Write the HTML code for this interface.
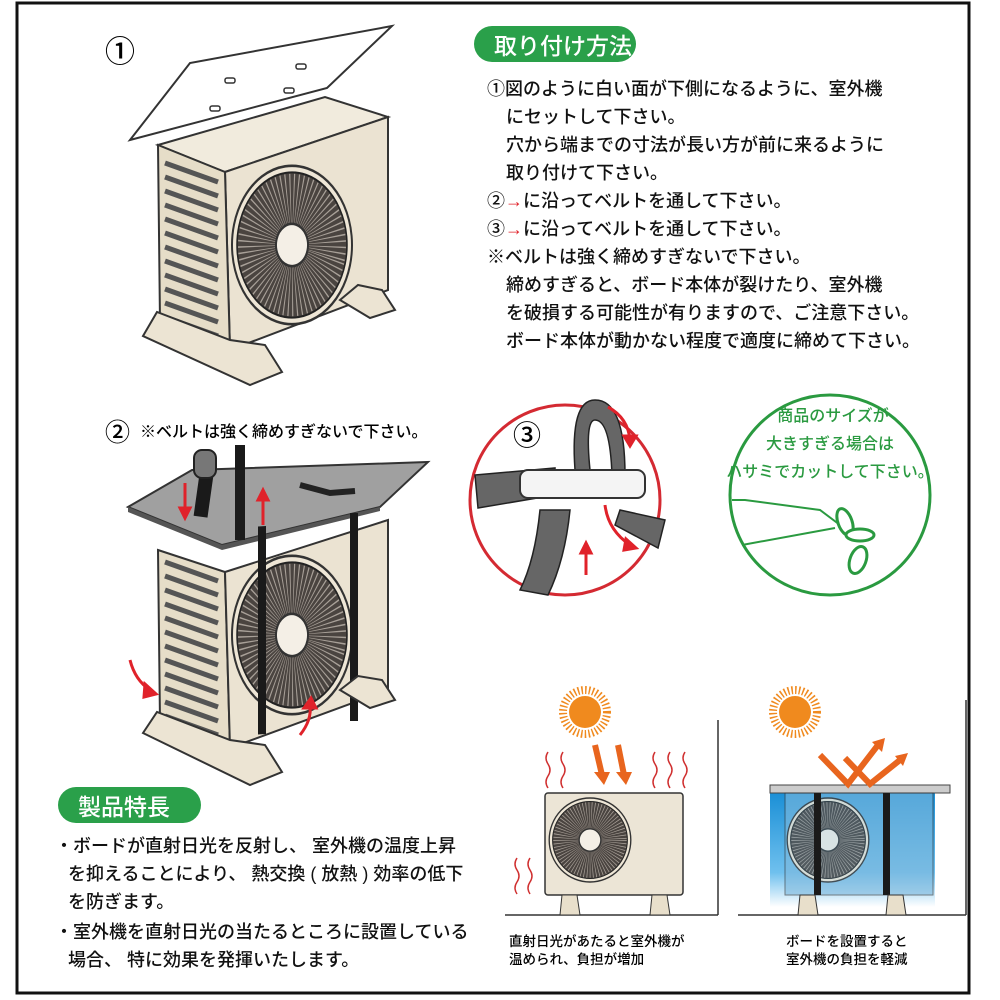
<!DOCTYPE html>
<html><head><meta charset="utf-8"><style>
html,body{margin:0;padding:0;background:#fff;}
svg{display:block}
text{font-family:"Liberation Sans","Noto Sans CJK JP",sans-serif;font-weight:500;}
</style></head><body>
<svg width="1000" height="1000" viewBox="0 0 1000 1000" xmlns="http://www.w3.org/2000/svg">
<defs>
<linearGradient id="blue" x1="0" y1="0" x2="0" y2="1">
<stop offset="0" stop-color="#1a8fd6"/><stop offset="0.7" stop-color="#6fc0ee"/><stop offset="1" stop-color="#ffffff"/>
</linearGradient>
<g id="fan">
<circle r="60" fill="#eee6d6" stroke="#333" stroke-width="2"/>
<circle r="55" fill="#4a4440" stroke="#222" stroke-width="1.5"/>
<circle r="35" fill="none" stroke="#a8a098" stroke-width="38" stroke-dasharray="0.8 2.4"/>
<circle r="16" fill="#f4efe6" stroke="#333" stroke-width="2"/>
</g>
</defs>
<rect x="17" y="3" width="952" height="990" fill="none" stroke="#111" stroke-width="3"/>

<!-- Unit 1 -->
<text x="105" y="62" font-size="30">①</text>
<polygon points="130,140 190,63 392,26 327,88" fill="#fff" stroke="#333" stroke-width="2"/>
<g fill="none" stroke="#333" stroke-width="1.5">
<rect x="225" y="78" width="10" height="5" rx="2"/><rect x="296" y="64" width="10" height="5" rx="2"/>
<rect x="210" y="106" width="10" height="5" rx="2"/><rect x="284" y="88" width="10" height="5" rx="2"/>
</g>
<polygon points="158,145 325,97 388,117 225,172" fill="#f1ebdd" stroke="#333" stroke-width="2"/>
<polygon points="225,172 388,117 388,290 230,350" fill="#ebe3d2" stroke="#333" stroke-width="2"/>
<polygon points="158,145 225,172 230,350 160,322" fill="#e6ddc8" stroke="#333" stroke-width="2"/>
<g stroke="#555" stroke-width="5">
<line x1="165" y1="163" x2="218" y2="182"/><line x1="165" y1="177" x2="218" y2="196"/><line x1="165" y1="191" x2="218" y2="210"/>
<line x1="165" y1="205" x2="218" y2="224"/><line x1="165" y1="219" x2="218" y2="238"/><line x1="165" y1="233" x2="218" y2="252"/>
<line x1="165" y1="247" x2="218" y2="266"/><line x1="165" y1="261" x2="218" y2="280"/><line x1="165" y1="275" x2="218" y2="294"/>
<line x1="165" y1="289" x2="218" y2="308"/><line x1="165" y1="303" x2="218" y2="322"/><line x1="165" y1="317" x2="218" y2="336"/>
</g>
<use href="#fan" transform="translate(292,245) scale(1.0,1.32) rotate(15)"/>
<polygon points="143,336 157,312 230,340 265,345 282,372 250,385" fill="#ece4d3" stroke="#333" stroke-width="2"/>
<polygon points="340,300 358,285 382,290 395,310 370,318" fill="#ece4d3" stroke="#333" stroke-width="2"/>

<!-- Header 1 -->
<rect x="474" y="26" width="162" height="36" rx="18" fill="#2aa04a"/>
<text x="494" y="54" font-size="23" fill="#fff">取り付け方法</text>
<g font-size="18" fill="#111">
<text x="487" y="95">①図のように白い面が下側になるように、室外機</text>
<text x="506" y="123">にセットして下さい。</text>
<text x="506" y="151">穴から端までの寸法が長い方が前に来るように</text>
<text x="506" y="179">取り付けて下さい。</text>
<text x="487" y="207">②<tspan fill="#e0222a">→</tspan>に沿ってベルトを通して下さい。</text>
<text x="487" y="235">③<tspan fill="#e0222a">→</tspan>に沿ってベルトを通して下さい。</text>
<text x="487" y="263">※ベルトは強く締めすぎないで下さい。</text>
<text x="506" y="291">締めすぎると、ボード本体が裂けたり、室外機</text>
<text x="506" y="319">を破損する可能性が有りますので、ご注意下さい。</text>
<text x="506" y="347">ボード本体が動かない程度で適度に締めて下さい。</text>
</g>

<!-- Unit 2 -->
<text x="105" y="441" font-size="25">②</text>
<text x="140" y="437" font-size="16">※ベルトは強く締めすぎないで下さい。</text>
<polygon points="158,550 225,572 230,748 160,722" fill="#e6ddc8" stroke="#333" stroke-width="2"/>
<polygon points="225,572 388,520 388,690 230,748" fill="#ebe3d2" stroke="#333" stroke-width="2"/>
<g stroke="#555" stroke-width="5">
<line x1="165" y1="562" x2="218" y2="581"/><line x1="165" y1="576" x2="218" y2="595"/><line x1="165" y1="590" x2="218" y2="609"/>
<line x1="165" y1="604" x2="218" y2="623"/><line x1="165" y1="618" x2="218" y2="637"/><line x1="165" y1="632" x2="218" y2="651"/>
<line x1="165" y1="646" x2="218" y2="665"/><line x1="165" y1="660" x2="218" y2="679"/><line x1="165" y1="674" x2="218" y2="693"/>
<line x1="165" y1="688" x2="218" y2="707"/><line x1="165" y1="702" x2="218" y2="721"/><line x1="165" y1="716" x2="218" y2="735"/>
</g>
<use href="#fan" transform="translate(292,635) scale(1.0,1.32) rotate(15)"/>
<polygon points="128,507 192,470 428,462 380,507 222,545" fill="#a0a0a0" stroke="#333" stroke-width="2"/>
<polygon points="128,507 222,545 380,507 380,511 222,550 128,512" fill="#555"/>
<rect x="258" y="540" width="8" height="208" fill="#1a1a1a" transform="skewY(-3)"/>
<rect x="350" y="513" width="8" height="208" fill="#1a1a1a"/>
<rect x="235" y="445" width="10" height="95" fill="#1a1a1a"/>
<rect x="198" y="455" width="14" height="62" fill="#1a1a1a" transform="rotate(8 205 485)"/>
<rect x="194" y="450" width="22" height="28" rx="8" fill="#777" stroke="#222" stroke-width="2"/>
<path d="M300 485 l30 8 l25 -2" stroke="#222" stroke-width="6" fill="none"/>
<g stroke="#e0222a" stroke-width="3" fill="#e0222a">
<line x1="185" y1="483" x2="185" y2="510"/><polygon points="180,508 190,508 185,518"/>
<line x1="263" y1="525" x2="263" y2="498"/><polygon points="258,500 268,500 263,490"/>
<path d="M130 660 q5 20 20 30" fill="none"/><polygon points="145,684 156,694 144,697"/>
<path d="M300 735 q12 -15 10 -30" fill="none"/><polygon points="304,708 316,708 311,698"/>
</g>
<polygon points="143,733 157,712 230,740 265,745 282,772 250,785" fill="#ece4d3" stroke="#333" stroke-width="2"/>
<polygon points="340,690 358,676 382,680 395,700 370,708" fill="#ece4d3" stroke="#333" stroke-width="2"/>

<!-- circle 3 -->
<circle cx="565" cy="500" r="95" fill="#fff" stroke="#d42a32" stroke-width="3"/>
<path d="M475 475 L555 468 L555 495 L478 508 Z" fill="#666" stroke="#222" stroke-width="1.5"/>
<path d="M575 470 Q570 400 595 400 Q625 400 625 475 L612 475 Q610 420 595 420 Q585 420 590 470 Z" fill="#666" stroke="#222" stroke-width="1.5"/>
<path d="M540 510 Q535 560 520 590 L548 595 Q565 560 570 510 Z" fill="#666" stroke="#222" stroke-width="1.5"/>
<path d="M620 510 L665 520 L658 548 L615 525 Z" fill="#666" stroke="#222" stroke-width="1.5"/>
<rect x="520" y="470" width="125" height="28" rx="8" fill="#f4f4f4" stroke="#333" stroke-width="2"/>
<text x="513" y="445" font-size="28">③</text>
<g stroke="#e0222a" stroke-width="3" fill="#e0222a">
<path d="M608 407 Q628 418 630 440" fill="none"/><polygon points="624,436 636,436 630,446"/>
<line x1="586" y1="552" x2="586" y2="575"/><polygon points="581,553 591,553 586,543"/>
<path d="M605 505 Q608 530 630 545" fill="none"/><polygon points="626,539 636,548 624,550"/>
</g>

<!-- green circle -->
<circle cx="830" cy="495" r="100" fill="#fff" stroke="#2a9a40" stroke-width="3"/>
<g font-size="16" fill="#2a9a40" text-anchor="middle" font-weight="bold">
<text x="833" y="421">商品のサイズが</text>
<text x="830" y="449">大きすぎる場合は</text>
<text x="830" y="477">ハサミでカットして下さい。</text>
</g>
<path d="M732 500 L745 500 L820 510 L840 525 M742 545 L835 528" stroke="#2a9a40" stroke-width="2" fill="none"/>
<g fill="#fff" stroke="#2a9a40" stroke-width="3">
<ellipse cx="845" cy="522" rx="7" ry="14" transform="rotate(-20 845 522)"/>
<ellipse cx="860" cy="535" rx="14" ry="6"/>
<ellipse cx="858" cy="560" rx="8" ry="14" transform="rotate(20 858 560)"/>
</g>

<!-- Features -->
<rect x="58" y="787" width="143" height="36" rx="18" fill="#2aa04a"/>
<text x="78" y="815" font-size="23" fill="#fff">製品特長</text>
<g font-size="18" fill="#111">
<text x="55" y="852">・ボードが直射日光を反射し、 室外機の温度上昇</text>
<text x="68" y="880">を抑えることにより、 熱交換 ( 放熱 ) 効率の低下</text>
<text x="68" y="908">を防ぎます。</text>
<text x="55" y="938">・室外機を直射日光の当たるところに設置している</text>
<text x="68" y="966">場合、 特に効果を発揮いたします。</text>
</g>

<!-- bottom left panel -->
<line x1="505" y1="915" x2="718" y2="915" stroke="#333" stroke-width="1.5"/>
<line x1="718" y1="720" x2="718" y2="915" stroke="#333" stroke-width="1.5"/>
<circle cx="585" cy="712" r="16" fill="#f08a1e"/>
<circle cx="585" cy="712" r="22" fill="none" stroke="#f08a1e" stroke-width="8" stroke-dasharray="1.5 2.2"/>
<g stroke="#e8651e" stroke-width="6"><line x1="595" y1="745" x2="602" y2="775"/><line x1="618" y1="745" x2="624" y2="775"/></g>
<g fill="#e8651e"><polygon points="594,772 610,772 604,785"/><polygon points="616,772 632,772 626,785"/></g>
<g stroke="#d03030" stroke-width="1.5" fill="none">
<path d="M548 752 q-4 6 0 12 q4 6 0 12 q-4 6 0 12"/><path d="M563 752 q-4 6 0 12 q4 6 0 12 q-4 6 0 12"/>
<path d="M655 752 q-4 6 0 12 q4 6 0 12 q-4 6 0 12"/><path d="M670 752 q-4 6 0 12 q4 6 0 12 q-4 6 0 12"/><path d="M685 752 q-4 6 0 12 q4 6 0 12 q-4 6 0 12"/>
<path d="M517 858 q-4 6 0 12 q4 6 0 12 q-4 6 0 12"/><path d="M530 858 q-4 6 0 12 q4 6 0 12 q-4 6 0 12"/>
</g>
<rect x="545" y="793" width="138" height="102" rx="3" fill="#ece5d6" stroke="#333" stroke-width="1.5"/>
<use href="#fan" transform="translate(590,840) scale(0.68,0.7)"/>
<polygon points="562,895 577,895 580,915 560,915" fill="#e8dfcb" stroke="#333"/>
<polygon points="652,895 667,895 670,915 650,915" fill="#e8dfcb" stroke="#333"/>
<text x="509" y="946" font-size="13.5">直射日光があたると室外機が</text>
<text x="509" y="964" font-size="13.5">温められ、負担が増加</text>

<!-- bottom right panel -->
<line x1="738" y1="915" x2="966" y2="915" stroke="#333" stroke-width="1.5"/>
<line x1="966" y1="700" x2="966" y2="915" stroke="#333" stroke-width="1.5"/>
<rect x="770" y="792" width="165" height="115" fill="url(#blue)"/>
<rect x="770" y="785" width="180" height="8" fill="#ccc" stroke="#444" stroke-width="1"/>
<rect x="785" y="793" width="148" height="102" fill="#7fb9dd" opacity="0.6" stroke="#333"/>
<use href="#fan" transform="translate(828,840) scale(0.68,0.7)" opacity="0.8"/>
<rect x="814" y="793" width="7" height="102" fill="#1a1a1a"/>
<rect x="883" y="793" width="7" height="102" fill="#1a1a1a"/>
<polygon points="800,895 815,895 818,915 798,915" fill="#e8dfcb" stroke="#333"/>
<polygon points="888,895 903,895 906,915 886,915" fill="#e8dfcb" stroke="#333"/>
<circle cx="795" cy="712" r="16" fill="#f08a1e"/>
<circle cx="795" cy="712" r="22" fill="none" stroke="#f08a1e" stroke-width="8" stroke-dasharray="1.5 2.2"/>
<g stroke="#e8651e" stroke-width="6" fill="none">
<polyline points="820,755 848,784 878,745"/><polyline points="845,758 870,784 900,760"/>
</g>
<g fill="#e8651e"><polygon points="872,742 885,738 882,752"/><polygon points="895,756 908,753 903,766"/></g>
<text x="786" y="946" font-size="13.5">ボードを設置すると</text>
<text x="786" y="964" font-size="13.5">室外機の負担を軽減</text>
</svg>
</body></html>
